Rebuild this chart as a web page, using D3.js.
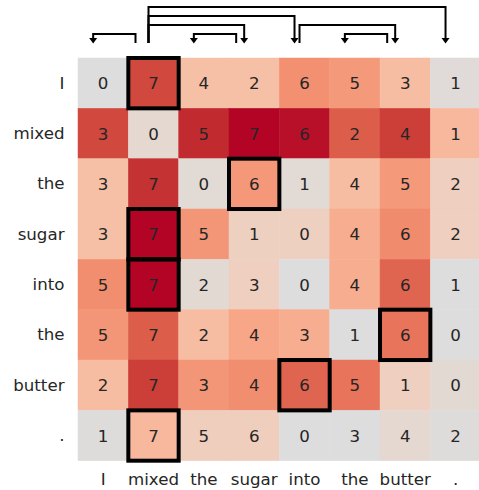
<!DOCTYPE html>
<html>
<head>
<meta charset="utf-8">
<script src="https://cdn.jsdelivr.net/npm/d3@7"></script>
<style>
  html, body { margin: 0; padding: 0; background: #fff; }
  svg { display: block; }
  text { font-family: "DejaVu Sans", sans-serif; }
</style>
</head>
<body>
<svg id="chart" width="479" height="490"></svg>
<script>
// ---- data ----
const tokens = ["I", "mixed", "the", "sugar", "into", "the", "butter", "."];
// dependency head of each token (null = root)
const heads = [1, null, 3, 1, 1, 6, 4, 1];
// numbers shown in the cells
const labels = [
  [0, 7, 4, 2, 6, 5, 3, 1],
  [3, 0, 5, 7, 6, 2, 4, 1],
  [3, 7, 0, 6, 1, 4, 5, 2],
  [3, 7, 5, 1, 0, 4, 6, 2],
  [5, 7, 2, 3, 0, 4, 6, 1],
  [5, 7, 2, 4, 3, 1, 6, 0],
  [2, 7, 3, 4, 6, 5, 1, 0],
  [1, 7, 5, 6, 0, 3, 4, 2]
];
// colour intensity of each cell (0..1)
const weights = [
  [0.00, 0.84, 0.28, 0.28, 0.55, 0.50, 0.30, 0.02],
  [0.84, 0.06, 0.93, 1.00, 0.98, 0.76, 0.87, 0.33],
  [0.28, 0.91, 0.04, 0.51, 0.04, 0.30, 0.50, 0.16],
  [0.28, 1.00, 0.52, 0.15, 0.15, 0.40, 0.57, 0.16],
  [0.56, 1.00, 0.05, 0.16, 0.00, 0.40, 0.73, 0.00],
  [0.52, 0.76, 0.30, 0.44, 0.40, 0.00, 0.67, 0.00],
  [0.30, 0.87, 0.52, 0.56, 0.73, 0.67, 0.16, 0.05],
  [0.01, 0.33, 0.17, 0.17, 0.00, 0.00, 0.06, 0.01]
];
// upper half of the coolwarm colormap
const cmapStops = [
  "#dddddd", "#e5d8d1", "#ecd3c6", "#f1ccb9", "#f5c4ad", "#f7bba0", "#f7b194",
  "#f7a687", "#f49a7b", "#f18d6f", "#ec7f63", "#e57058", "#de604d", "#d55042",
  "#cb3e38", "#c0282f", "#b40426"
];

// ---- layout ----
const svg = d3.select("#chart");
const gx0 = 78, gx1 = 480.7, gy0 = 58, gy1 = 460.7;
const idx = d3.range(tokens.length);
const x = d3.scaleBand().domain(idx).range([gx0, gx1]);
const y = d3.scaleBand().domain(idx).range([gy0, gy1]);
const color = d3.scaleLinear()
  .domain(cmapStops.map((_, i) => i / (cmapStops.length - 1)))
  .range(cmapStops)
  .interpolate(d3.interpolateRgb)
  .clamp(true);

const cells = [];
labels.forEach((row, r) => row.forEach((v, c) => cells.push({ r, c, v, w: weights[r][c] })));

svg.append("g").selectAll("rect").data(cells).join("rect")
  .attr("x", d => x(d.c)).attr("y", d => y(d.r))
  .attr("width", x.bandwidth()).attr("height", y.bandwidth())
  .attr("fill", d => color(d.w))
  .attr("stroke", d => color(d.w)).attr("stroke-width", 0.5);

svg.append("g").selectAll("text").data(cells).join("text")
  .attr("x", d => x(d.c) + x.bandwidth() / 2)
  .attr("y", d => y(d.r) + y.bandwidth() / 2)
  .attr("dy", "0.36em")
  .attr("text-anchor", "middle")
  .attr("font-size", 16.67)
  .attr("fill", "#262626")
  .text(d => d.v);

// highlight boxes at each token's head
const boxes = heads.map((h, r) => ({ r, h })).filter(d => d.h !== null);
svg.append("g").selectAll("rect").data(boxes).join("rect")
  .attr("x", d => x(d.h)).attr("y", d => y(d.r))
  .attr("width", x.bandwidth()).attr("height", y.bandwidth())
  .attr("fill", "none").attr("stroke", "#000").attr("stroke-width", 4);

// axes labels
const yAxis = d3.axisLeft(y).tickSize(0).tickPadding(13.5).tickFormat(i => tokens[i]);
const gy = svg.append("g").attr("transform", `translate(${gx0},0)`).call(yAxis);
gy.select(".domain").remove();
gy.selectAll("text").attr("font-size", 16.67).attr("fill", "#262626")
  .attr("font-family", "DejaVu Sans, sans-serif");

const xAxis = d3.axisBottom(x).tickSize(0).tickPadding(12).tickFormat(i => tokens[i]);
const gxA = svg.append("g").attr("transform", `translate(0,${gy1})`).call(xAxis);
gxA.select(".domain").remove();
gxA.selectAll("text").attr("font-size", 16.67).attr("fill", "#262626")
  .attr("font-family", "DejaVu Sans, sans-serif");

// dependency arcs
const arcs = heads.map((h, d) => ({ h, d })).filter(a => a.h !== null)
  .map(a => ({ ...a, len: Math.abs(a.h - a.d) }));
const lens = Array.from(new Set(arcs.map(a => a.len))).sort((a, b) => a - b);
arcs.forEach(a => a.level = lens.indexOf(a.len) + 1);

const cx = i => x(i) + x.bandwidth() / 2;
const tipY = 43.5, baseY = 43, levelStep = 9, headH = 5.5, headW = 4;
const ga = svg.append("g");
arcs.forEach(a => {
  const right = a.d > a.h;
  const xs = cx(a.h) + (right ? -5 : -18);
  const xe = cx(a.d) - 10;
  const ly = baseY - levelStep * a.level;
  ga.append("path")
    .attr("d", `M${xs},${baseY}V${ly}H${xe}V${tipY - headH}`)
    .attr("fill", "none").attr("stroke", "#000").attr("stroke-width", 2);
  ga.append("path")
    .attr("d", `M${xe - headW},${tipY - headH}L${xe + headW},${tipY - headH}L${xe},${tipY}Z`)
    .attr("fill", "#000");
});
</script>
</body>
</html>
